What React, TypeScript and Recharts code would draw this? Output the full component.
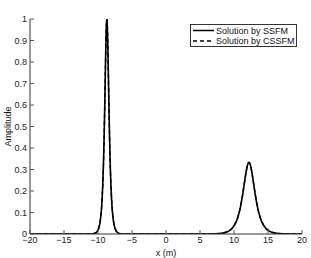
import { LineChart, Line, XAxis, YAxis } from "recharts";

const xs = [
  -20, -15, -12, -11, -10.6, -10.3, -10.1, -9.9, -9.7, -9.6, -9.5, -9.4, -9.3, -9.2, -9.1, -9.0,
  -8.9, -8.85, -8.8, -8.75, -8.7, -8.65, -8.6, -8.55, -8.5, -8.4, -8.3, -8.2, -8.1, -8.0, -7.9,
  -7.8, -7.7, -7.5, -7.3, -7.1, -6.8, -6.4, -5, 0, 5, 6.2, 7.2, 8.2, 8.7, 9.2, 9.7, 10.2, 10.45,
  10.7, 10.95, 11.2, 11.45, 11.7, 11.95, 12.2, 12.45, 12.7, 12.95, 13.2, 13.45, 13.7, 13.95,
  14.2, 14.7, 15.2, 15.7, 16.2, 17.2, 18.2, 20,
];

const ssfm = [
  0, 0, 0, 0.0001, 0.0021, 0.0063, 0.0129, 0.0266, 0.0546, 0.0782, 0.112, 0.16, 0.228, 0.322,
  0.449, 0.609, 0.787, 0.87, 0.939, 0.984, 1.0, 0.984, 0.939, 0.87, 0.787, 0.609, 0.449, 0.322,
  0.228, 0.16, 0.112, 0.0782, 0.0546, 0.0266, 0.0129, 0.0063, 0.0015, 0.0002, 0, 0, 0, 0.0003,
  0.001, 0.0037, 0.007, 0.0135, 0.0258, 0.0492, 0.0678, 0.0929, 0.126, 0.169, 0.22, 0.273, 0.316,
  0.333, 0.316, 0.273, 0.22, 0.169, 0.126, 0.0929, 0.0678, 0.0492, 0.0258, 0.0135, 0.007,
  0.0037, 0.001, 0.0003, 0,
];

const cssfm = [
  0, 0, 0, 0.0001, 0.0021, 0.0063, 0.0129, 0.0266, 0.0546, 0.0782, 0.112, 0.16, 0.228, 0.322,
  0.449, 0.609, 0.787, 0.87, 0.939, 0.984, 1.0, 0.984, 0.939, 0.87, 0.787, 0.609, 0.449, 0.322,
  0.228, 0.16, 0.112, 0.0782, 0.0546, 0.0266, 0.0129, 0.0063, 0.0015, 0.0002, 0, 0, 0, 0.0003,
  0.001, 0.0037, 0.007, 0.0135, 0.0258, 0.0492, 0.0678, 0.0929, 0.126, 0.169, 0.22, 0.273, 0.316,
  0.333, 0.316, 0.273, 0.22, 0.169, 0.126, 0.0929, 0.0678, 0.0492, 0.0258, 0.0135, 0.007,
  0.0037, 0.001, 0.0003, 0,
];

const xTicks = [-20, -15, -10, -5, 0, 5, 10, 15, 20];
const yTicks = [0, 0.1, 0.2, 0.3, 0.4, 0.5, 0.6, 0.7, 0.8, 0.9, 1];
const seriesNames = ["Solution by SSFM", "Solution by CSSFM"];

const data = xs.map((x, i) => ({ x, ssfm: ssfm[i], cssfm: cssfm[i] }));

const font = "'Liberation Sans', Arial, sans-serif";
const tickStyle = { fontSize: 9, fontFamily: font, fill: "#222" };
const axisLine = { stroke: "#333" };
const tickLine = { stroke: "#555" };
const blank = () => "";

// legend drawn as an overlay so it doesn't eat into the plot area
function LegendBox() {
  return (
    <svg width={108} height={24} style={{ position: "absolute", left: 190, top: 24 }}>
      <rect x={0.5} y={0.5} width={106} height={22} fill="#fff" stroke="#333" />
      <line x1={3} x2={24} y1={6.5} y2={6.5} stroke="#000" strokeWidth={1.5} />
      <text x={26} y={9.8} fontSize={9} fontFamily={font} fill="#111">{seriesNames[0]}</text>
      <line x1={3} x2={24} y1={17} y2={17} stroke="#000" strokeWidth={1.5} strokeDasharray="4 3" />
      <text x={26} y={20.3} fontSize={9} fontFamily={font} fill="#111">{seriesNames[1]}</text>
    </svg>
  );
}

export default function App() {
  return (
    <div style={{ position: "fixed", left: 0, top: 0, width: 311, height: 258, background: "#fff" }}>
      <LineChart width={311} height={258} data={data} margin={{ top: 19, right: 9, bottom: 0, left: 0 }}>
        <XAxis
          dataKey="x"
          type="number"
          domain={[-20, 20]}
          ticks={xTicks}
          allowDataOverflow
          height={24}
          tick={tickStyle}
          tickSize={-4}
          tickMargin={7}
          axisLine={axisLine}
          tickLine={tickLine}
          tickFormatter={(v: number) => (v < 0 ? `\u2212${-v}` : `${v}`)}
          label={{ value: "x (m)", position: "insideBottom", offset: 2, fontSize: 9, fontFamily: font, fill: "#111" }}
        />
        <XAxis
          xAxisId="top"
          orientation="top"
          type="number"
          domain={[-20, 20]}
          ticks={xTicks}
          allowDataOverflow
          height={0}
          tickSize={-4}
          tickFormatter={blank}
          axisLine={axisLine}
          tickLine={tickLine}
        />
        <YAxis
          type="number"
          domain={[0, 1]}
          ticks={yTicks}
          allowDataOverflow
          width={30}
          tick={tickStyle}
          tickSize={-4}
          tickMargin={7}
          axisLine={axisLine}
          tickLine={tickLine}
          label={{ value: "Amplitude", angle: -90, position: "insideLeft", offset: 8, fontSize: 9, fontFamily: font, fill: "#111", style: { textAnchor: "middle" } }}
        />
        <YAxis
          yAxisId="right"
          orientation="right"
          type="number"
          domain={[0, 1]}
          ticks={yTicks}
          allowDataOverflow
          width={0}
          tickSize={-4}
          tickFormatter={blank}
          axisLine={axisLine}
          tickLine={tickLine}
        />
        <Line
          type="monotone"
          dataKey="ssfm"
          name={seriesNames[0]}
          stroke="#000"
          strokeWidth={1.6}
          dot={false}
          isAnimationActive={false}
        />
        <Line
          type="monotone"
          dataKey="cssfm"
          name={seriesNames[1]}
          stroke="#000"
          strokeWidth={1.4}
          strokeDasharray="4 3"
          dot={false}
          isAnimationActive={false}
        />
      </LineChart>
      <LegendBox />
    </div>
  );
}
